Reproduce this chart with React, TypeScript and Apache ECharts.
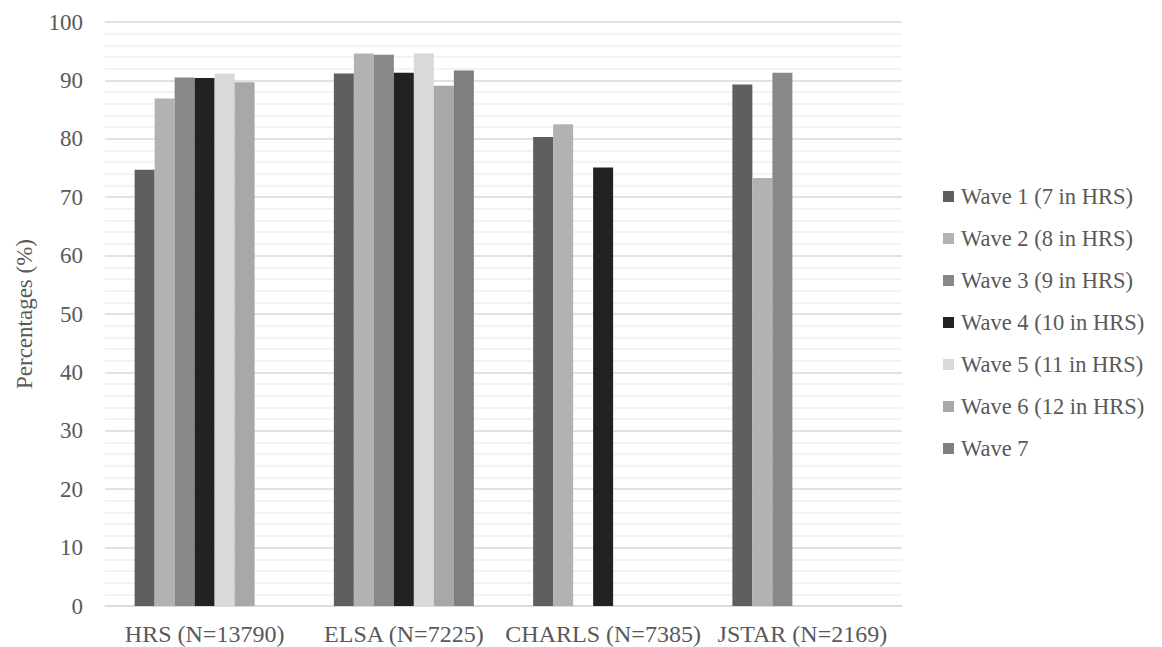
import React, { useEffect, useRef } from "react";
import * as echarts from "echarts";

const categories = ["HRS (N=13790)", "ELSA (N=7225)", "CHARLS (N=7385)", "JSTAR (N=2169)"];

const waveNames = [
  "Wave 1 (7 in HRS)",
  "Wave 2 (8 in HRS)",
  "Wave 3 (9 in HRS)",
  "Wave 4 (10 in HRS)",
  "Wave 5 (11 in HRS)",
  "Wave 6 (12 in HRS)",
  "Wave 7",
];

const wave1 = [74.7, 91.2, 80.3, 89.3];
const wave2 = [86.9, 94.6, 82.5, 73.3];
const wave3 = [90.5, 94.4, null, 91.3];
const wave4 = [90.4, 91.3, 75.1, null];
const wave5 = [91.2, 94.6, null, null];
const wave6 = [89.7, 89.1, null, null];
const wave7 = [null, 91.7, null, null];

const waveValues = [wave1, wave2, wave3, wave4, wave5, wave6, wave7];

const waveColors = ["#5f5f5f", "#b2b2b2", "#888888", "#222222", "#d9d9d9", "#a8a8a8", "#7f7f7f"];

const FONT = "'Liberation Serif', 'Times New Roman', serif";
const TEXT = "#595959";

export default function App() {
  const ref = useRef<HTMLDivElement>(null);

  useEffect(() => {
    if (!ref.current) return;
    const chart = echarts.init(ref.current, null, { renderer: "svg" });
    chart.setOption({
      animation: false,
      backgroundColor: "#ffffff",
      grid: { left: 97, right: 260, top: 14, bottom: 41, containLabel: false, outerBoundsMode: "none" },
      legend: {
        orient: "vertical",
        left: 930,
        top: 171,
        icon: "rect",
        itemWidth: 11,
        itemHeight: 11,
        itemGap: 17,
        textStyle: { color: TEXT, fontFamily: FONT, fontSize: 22.5, lineHeight: 25, padding: [0, 0, 0, 2] },
        data: waveNames,
      },
      xAxis: {
        type: "category",
        data: categories,
        axisLine: { lineStyle: { color: "#d9d9d9", width: 1.5 } },
        axisTick: { show: false },
        axisLabel: { color: TEXT, fontFamily: FONT, fontSize: 24, margin: 16, interval: 0 },
        splitLine: { show: false },
      },
      yAxis: {
        type: "value",
        min: 0,
        max: 100,
        interval: 10,
        name: "Percentages (%)",
        nameLocation: "middle",
        nameGap: 69,
        nameTextStyle: { color: TEXT, fontFamily: FONT, fontSize: 23 },
        axisLine: { show: false },
        axisTick: { show: false },
        axisLabel: { color: TEXT, fontFamily: FONT, fontSize: 23, margin: 22 },
        splitLine: { lineStyle: { color: "#d9d9d9", width: 1.5 } },
        minorTick: { show: false, splitNumber: 5 },
        minorSplitLine: { show: true, lineStyle: { color: "#efefef", width: 1.5 } },
      },
      series: waveNames.map((name, i) => ({
        name,
        type: "bar",
        data: waveValues[i],
        barWidth: 20,
        barGap: "0%",
        itemStyle: { color: waveColors[i] },
      })),
    });
    return () => chart.dispose();
  }, []);

  return <div ref={ref} style={{ width: 1154, height: 639 }} />;
}
